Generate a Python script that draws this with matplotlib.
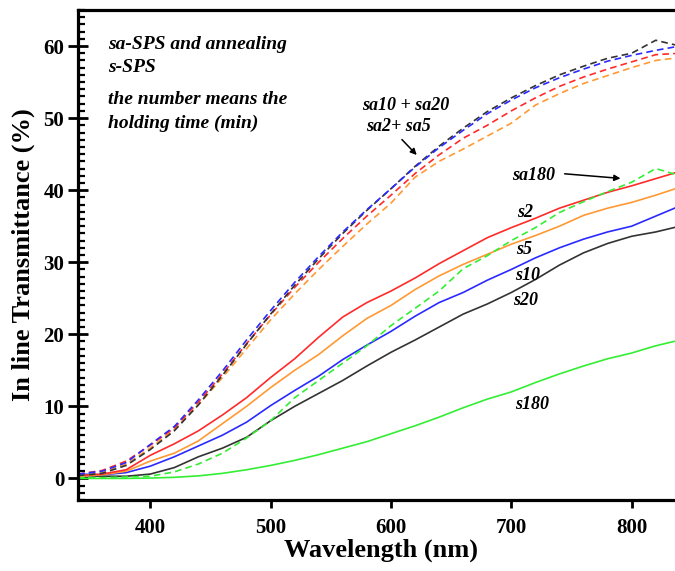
#!/usr/bin/env python3
"""In-line transmittance of sa-SPS / s-SPS samples vs wavelength."""
import matplotlib
matplotlib.use("Agg")
import matplotlib.pyplot as plt
from matplotlib.ticker import MultipleLocator

plt.rcParams["font.family"] = ["Liberation Serif", "DejaVu Serif"]

wavelength = [340, 360, 380, 400, 420, 440, 460, 480, 500, 520, 540, 560, 580,
              600, 620, 640, 660, 680, 700, 720, 740, 760, 780, 800, 820, 840]

# dashed: sa-SPS + annealing
sa2 = [0.6, 1.1, 2.4, 4.6, 7.0, 10.6, 14.5, 18.7, 22.7, 26.5, 30.0, 33.3, 36.4,
       39.3, 42.3, 44.9, 47.2, 49.0, 51.0, 52.8, 54.4, 55.7, 56.8, 57.8, 58.8, 59.0]
sa5 = [0.3, 0.8, 2.0, 4.2, 6.8, 10.2, 14.0, 18.0, 22.0, 25.6, 29.0, 32.2, 35.3,
       38.2, 41.8, 44.0, 45.7, 47.5, 49.3, 51.8, 53.4, 54.8, 55.9, 57.0, 58.0, 58.4]
sa10 = [0.6, 1.0, 2.2, 4.7, 7.2, 10.9, 14.9, 19.2, 23.3, 27.2, 30.8, 34.2, 37.3,
        40.2, 43.2, 45.9, 48.3, 50.6, 52.5, 54.2, 55.6, 56.8, 57.9, 58.7, 59.4, 60.0]
sa20 = [0.4, 0.7, 1.8, 4.0, 6.6, 10.2, 14.3, 18.6, 22.8, 26.8, 30.5, 34.0, 37.2,
        40.2, 43.3, 46.1, 48.6, 50.9, 52.8, 54.5, 56.0, 57.2, 58.3, 59.0, 60.8, 60.0]
sa180 = [0.1, 0.1, 0.2, 0.3, 0.9, 2.0, 3.5, 5.6, 8.0, 11.2, 13.6, 16.0, 18.4,
         21.2, 23.6, 26.0, 29.1, 30.9, 33.0, 34.8, 36.9, 38.4, 39.8, 41.1, 43.0, 42.0]

# solid: s-SPS
s2 = [0.4, 0.6, 1.2, 3.2, 4.8, 6.6, 8.8, 11.2, 14.0, 16.6, 19.6, 22.4, 24.4,
      26.0, 27.8, 29.8, 31.6, 33.4, 34.8, 36.1, 37.5, 38.6, 39.7, 40.6, 41.6, 42.6]
s5 = [0.3, 0.5, 1.0, 2.4, 3.5, 5.2, 7.6, 10.0, 12.6, 15.0, 17.2, 19.8, 22.2,
      24.0, 26.2, 28.1, 29.7, 31.1, 32.5, 33.7, 35.0, 36.5, 37.5, 38.3, 39.3, 40.4]
s10 = [0.6, 0.5, 0.8, 1.7, 3.0, 4.5, 6.0, 7.8, 10.1, 12.2, 14.2, 16.5, 18.5,
       20.4, 22.5, 24.4, 25.8, 27.5, 29.0, 30.6, 32.0, 33.2, 34.2, 35.0, 36.4, 37.8]
s20 = [0.4, 0.3, 0.3, 0.6, 1.5, 3.0, 4.2, 5.7, 8.0, 10.0, 11.8, 13.6, 15.6,
       17.5, 19.2, 21.0, 22.8, 24.2, 25.8, 27.6, 29.6, 31.3, 32.6, 33.6, 34.2, 35.0]
s180 = [0.0, 0.0, 0.0, 0.05, 0.15, 0.35, 0.7, 1.2, 1.8, 2.5, 3.3, 4.2, 5.1,
        6.2, 7.3, 8.5, 9.8, 11.0, 12.0, 13.3, 14.5, 15.6, 16.6, 17.4, 18.4, 19.2]

RED, ORANGE, BLUE, BLACK, GREEN = "#ff2a2a", "#ff9933", "#2a2aff", "#333333", "#33ee33"

fig = plt.figure(figsize=(6.75, 5.71), dpi=100)
ax = fig.add_axes([0.1156, 0.1243, 0.8844, 0.8582])

for y, c in [(s180, GREEN), (s20, BLACK), (s10, BLUE), (s5, ORANGE), (s2, RED)]:
    ax.plot(wavelength, y, color=c, linewidth=1.2)
for y, c in [(sa180, GREEN), (sa5, ORANGE), (sa2, RED), (sa20, BLACK), (sa10, BLUE)]:
    ax.plot(wavelength, y, color=c, linewidth=1.2, linestyle=(0, (4, 2.5)))

ax.set_xlim(340, 836)
ax.set_ylim(-3, 65)
ax.xaxis.set_major_locator(MultipleLocator(100))
ax.yaxis.set_major_locator(MultipleLocator(10))
ax.yaxis.set_minor_locator(MultipleLocator(1))

ax.spines["right"].set_visible(False)
for side in ("left", "bottom", "top"):
    ax.spines[side].set_linewidth(2.3)
ax.tick_params(axis="y", which="major", direction="inout", length=14, width=2, pad=3)
ax.tick_params(axis="y", which="minor", direction="in", length=5, width=1.6)
ax.tick_params(axis="x", which="major", direction="out", length=6, width=2, pad=7)
ax.tick_params(axis="both", labelsize=15)
for lab in ax.get_xticklabels() + ax.get_yticklabels():
    lab.set_fontweight("bold")

ax.set_xlabel("Wavelength (nm)", fontsize=19, fontweight="bold")
ax.set_ylabel("In line Transmittance (%)", fontsize=19, fontweight="bold", labelpad=6)
ax.xaxis.set_label_coords(0.508, -0.078)

note = dict(fontsize=14, fontweight="bold", style="italic", ha="left", va="center")
ax.text(365, 60.2, "sa-SPS and annealing", **note)
ax.text(365, 57.0, "s-SPS", **note)
ax.text(365, 52.6, "the number means the", **note)
ax.text(365, 49.3, "holding time (min)", **note)

label = dict(note, fontsize=13)
ax.text(576, 51.8, "sa10 + sa20", **label)
ax.text(579, 48.9, "sa2+ sa5", **label)
ax.annotate("", xy=(623, 44.6), xytext=(607.5, 47.3),
            arrowprops=dict(arrowstyle="-|>", color="black", lw=1.1, mutation_scale=9))
ax.text(701, 42.0, "sa180", **label)
ax.annotate("", xy=(793, 41.6), xytext=(742, 42.3),
            arrowprops=dict(arrowstyle="-|>", color="black", lw=1.1, mutation_scale=9))

ax.text(705, 36.9, "s2", **label)
ax.text(704, 31.8, "s5", **label)
ax.text(703, 28.2, "s10", **label)
ax.text(701.5, 24.7, "s20", **label)
ax.text(703, 10.3, "s180", **label)

fig.savefig("out.png", dpi=100)
